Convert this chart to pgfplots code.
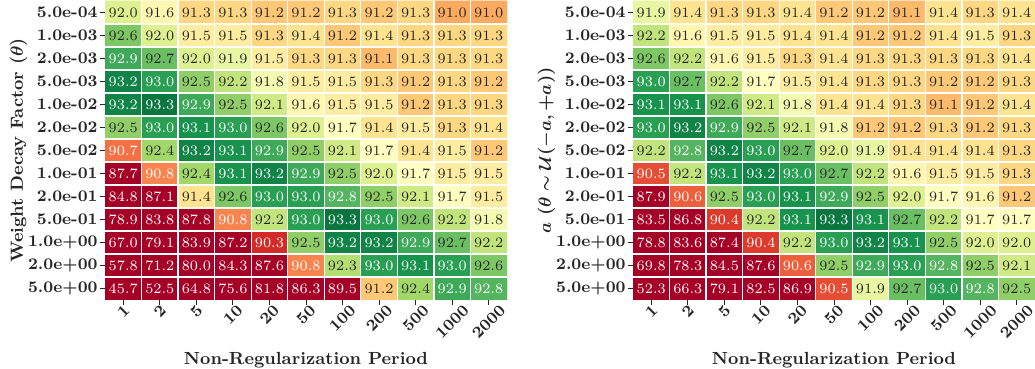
\RequirePackage{fix-cm}
\documentclass[border=0pt]{standalone}
\usepackage{graphicx}
\usepackage{pgfplots}
\usepackage{pgfplotstable}
\pgfplotsset{compat=1.18}

\definecolor{txtdark}{HTML}{262626}

\pgfplotsset{colormap={rdylgn}{rgb255(0)=(165,0,38) rgb255(1)=(215,48,39) rgb255(2)=(244,109,67)
  rgb255(3)=(253,174,97) rgb255(4)=(254,224,139) rgb255(5)=(255,255,191)
  rgb255(6)=(217,239,139) rgb255(7)=(166,217,106) rgb255(8)=(102,189,99)
  rgb255(9)=(26,152,80) rgb255(10)=(0,104,55)}}

% x: period index (0=1,...,10=2000); y: row (0=5.0e+00 bottom ... 12=5.0e-04 top)
\pgfplotstableread{
x y z
0 0 45.7
1 0 52.5
2 0 64.8
3 0 75.6
4 0 81.8
5 0 86.3
6 0 89.5
7 0 91.2
8 0 92.4
9 0 92.9
10 0 92.8
0 1 57.8
1 1 71.2
2 1 80.0
3 1 84.3
4 1 87.6
5 1 90.8
6 1 92.3
7 1 93.0
8 1 93.1
9 1 93.0
10 1 92.6
0 2 67.0
1 2 79.1
2 2 83.9
3 2 87.2
4 2 90.3
5 2 92.5
6 2 93.2
7 2 93.2
8 2 92.9
9 2 92.7
10 2 92.2
0 3 78.9
1 3 83.8
2 3 87.8
3 3 90.8
4 3 92.2
5 3 93.0
6 3 93.3
7 3 93.0
8 3 92.6
9 3 92.2
10 3 91.8
0 4 84.8
1 4 87.1
2 4 91.4
3 4 92.6
4 4 93.0
5 4 93.0
6 4 92.8
7 4 92.5
8 4 92.1
9 4 91.7
10 4 91.5
0 5 87.7
1 5 90.8
2 5 92.4
3 5 93.1
4 5 93.2
5 5 92.9
6 5 92.5
7 5 92.0
8 5 91.7
9 5 91.5
10 5 91.5
0 6 90.7
1 6 92.4
2 6 93.2
3 6 93.1
4 6 92.9
5 6 92.5
6 6 92.1
7 6 91.7
8 6 91.4
9 6 91.5
10 6 91.2
0 7 92.5
1 7 93.0
2 7 93.1
3 7 93.0
4 7 92.6
5 7 92.0
6 7 91.7
7 7 91.4
8 7 91.5
9 7 91.3
10 7 91.4
0 8 93.2
1 8 93.3
2 8 92.9
3 8 92.5
4 8 92.1
5 8 91.6
6 8 91.5
7 8 91.5
8 8 91.2
9 8 91.3
10 8 91.3
0 9 93.2
1 9 93.0
2 9 92.5
3 9 92.2
4 9 91.8
5 9 91.5
6 9 91.5
7 9 91.3
8 9 91.2
9 9 91.3
10 9 91.2
0 10 92.9
1 10 92.7
2 10 92.0
3 10 91.9
4 10 91.5
5 10 91.3
6 10 91.3
7 10 91.1
8 10 91.3
9 10 91.3
10 10 91.3
0 11 92.6
1 11 92.0
2 11 91.5
3 11 91.5
4 11 91.3
5 11 91.4
6 11 91.2
7 11 91.4
8 11 91.3
9 11 91.3
10 11 91.3
0 12 92.0
1 12 91.6
2 12 91.3
3 12 91.3
4 12 91.2
5 12 91.2
6 12 91.3
7 12 91.2
8 12 91.3
9 12 91.0
10 12 91.0
}\leftT

\pgfplotstableread{
x y z
0 0 52.3
1 0 66.3
2 0 79.1
3 0 82.5
4 0 86.9
5 0 90.5
6 0 91.9
7 0 92.7
8 0 93.0
9 0 92.8
10 0 92.5
0 1 69.8
1 1 78.3
2 1 84.5
3 1 87.6
4 1 90.6
5 1 92.5
6 1 92.9
7 1 93.0
8 1 92.8
9 1 92.5
10 1 92.1
0 2 78.8
1 2 83.6
2 2 87.4
3 2 90.4
4 2 92.2
5 2 93.0
6 2 93.2
7 2 93.1
8 2 92.5
9 2 92.0
10 2 92.0
0 3 83.5
1 3 86.8
2 3 90.4
3 3 92.2
4 3 93.1
5 3 93.3
6 3 93.1
7 3 92.7
8 3 92.2
9 3 91.7
10 3 91.7
0 4 87.9
1 4 90.6
2 4 92.5
3 4 93.0
4 4 93.1
5 4 92.9
6 4 92.5
7 4 92.0
8 4 91.7
9 4 91.6
10 4 91.2
0 5 90.5
1 5 92.2
2 5 93.1
3 5 93.2
4 5 93.0
5 5 92.7
6 5 92.2
7 5 91.6
8 5 91.5
9 5 91.5
10 5 91.3
0 6 92.2
1 6 92.8
2 6 93.2
3 6 93.0
4 6 92.7
5 6 92.0
6 6 91.9
7 6 91.4
8 6 91.4
9 6 91.4
10 6 91.3
0 7 93.0
1 7 93.2
2 7 92.9
3 7 92.5
4 7 92.1
5 7 91.8
6 7 91.2
7 7 91.2
8 7 91.3
9 7 91.2
10 7 91.3
0 8 93.1
1 8 93.1
2 8 92.6
3 8 92.1
4 8 91.8
5 8 91.4
6 8 91.4
7 8 91.3
8 8 91.1
9 8 91.2
10 8 91.4
0 9 93.0
1 9 92.7
2 9 92.2
3 9 91.7
4 9 91.5
5 9 91.4
6 9 91.3
7 9 91.3
8 9 91.2
9 9 91.2
10 9 91.3
0 10 92.6
1 10 92.2
2 10 91.6
3 10 91.5
4 10 91.3
5 10 91.4
6 10 91.3
7 10 91.3
8 10 91.3
9 10 91.3
10 10 91.4
0 11 92.2
1 11 91.6
2 11 91.5
3 11 91.5
4 11 91.4
5 11 91.4
6 11 91.2
7 11 91.2
8 11 91.4
9 11 91.5
10 11 91.3
0 12 91.9
1 12 91.4
2 12 91.3
3 12 91.3
4 12 91.4
5 12 91.2
6 12 91.2
7 12 91.1
8 12 91.4
9 12 91.3
10 12 91.4
}\rightT

\pgfplotsset{
  hm/.style={
    scale only axis, width=201bp, height=149.5bp,
    anchor=south west,
    xmin=-0.5, xmax=10.5, ymin=-0.5, ymax=12.5,
    axis line style={draw=none},
    axis on top,
    tick align=outside, tick pos=left,
    major tick length=2.5bp,
    tick style={txtdark, line width=0.45bp},
    xtick={0,...,10}, ytick={0,...,12},
    xticklabels={\rotatebox{45}{1},\rotatebox{45}{2},\rotatebox{45}{5},\rotatebox{45}{10},\rotatebox{45}{20},\rotatebox{45}{50},\rotatebox{45}{100},\rotatebox{45}{200},\rotatebox{45}{500},\rotatebox{45}{1000},\rotatebox{45}{2000}},
    yticklabels={5.0e+00,2.0e+00,1.0e+00,5.0e-01,2.0e-01,1.0e-01,5.0e-02,2.0e-02,1.0e-02,5.0e-03,2.0e-03,1.0e-03,5.0e-04},
    extra x ticks={0.5,1.5,...,9.5},
    extra y ticks={0.5,1.5,...,11.5},
    extra x tick labels={}, extra y tick labels={},
    extra tick style={grid=major, major tick length=0pt,
      major grid style={white, line width=0.6bp}},
    ticklabel style={font=\bfseries\fontsize{8.1}{9.7}\selectfont, text=txtdark},
    xticklabel style={anchor=north, inner sep=1bp, yshift=1.5bp},
    yticklabel style={anchor=east, inner sep=1bp},
    xlabel={Non-Regularization Period},
    xlabel style={font=\bfseries\fontsize{8.8}{10.5}\selectfont, text=txtdark, inner sep=2.5bp},
    ylabel style={at={(axis description cs:-0.215,0.5)}, anchor=center,
      font=\bfseries\boldmath\fontsize{8.8}{10.5}\selectfont, text=txtdark},
    colormap name=rdylgn,
    point meta min=90, point meta max=93.4,
  },
  cells/.style={matrix plot*, mesh/cols=11, point meta=explicit},
  labels/.style={only marks, mark=none, point meta=explicit symbolic,
    nodes near coords={\ifdim\pgfplotspointmeta pt>92.75pt\color{white}\else\ifdim\pgfplotspointmeta pt<90.85pt\color{white}\else\color{txtdark}\fi\fi\pgfplotspointmeta},
    nodes near coords align=center,
    every node near coord/.append style={anchor=center, inner sep=0pt,
      font=\fontsize{7.2}{8.6}\selectfont}},
}

\begin{document}
\begin{tikzpicture}
\begin{axis}[hm, at={(52.5bp,34.5bp)}, ylabel={Weight Decay Factor ($\theta$)}]
\addplot[cells] table[x=x, y=y, meta=z] {\leftT};
\addplot[labels] table[x=x, y=y, meta=z] {\leftT};
\end{axis}
\begin{axis}[hm, at={(316.5bp,34.5bp)}, ylabel={$a\ (\theta\sim\mathcal{U}(-a,+a))$}]
\addplot[cells] table[x=x, y=y, meta=z] {\rightT};
\addplot[labels] table[x=x, y=y, meta=z] {\rightT};
\end{axis}
\pgfresetboundingbox
\path[use as bounding box] (0,0) rectangle (517.5bp,184.5bp);
\end{tikzpicture}
\end{document}
